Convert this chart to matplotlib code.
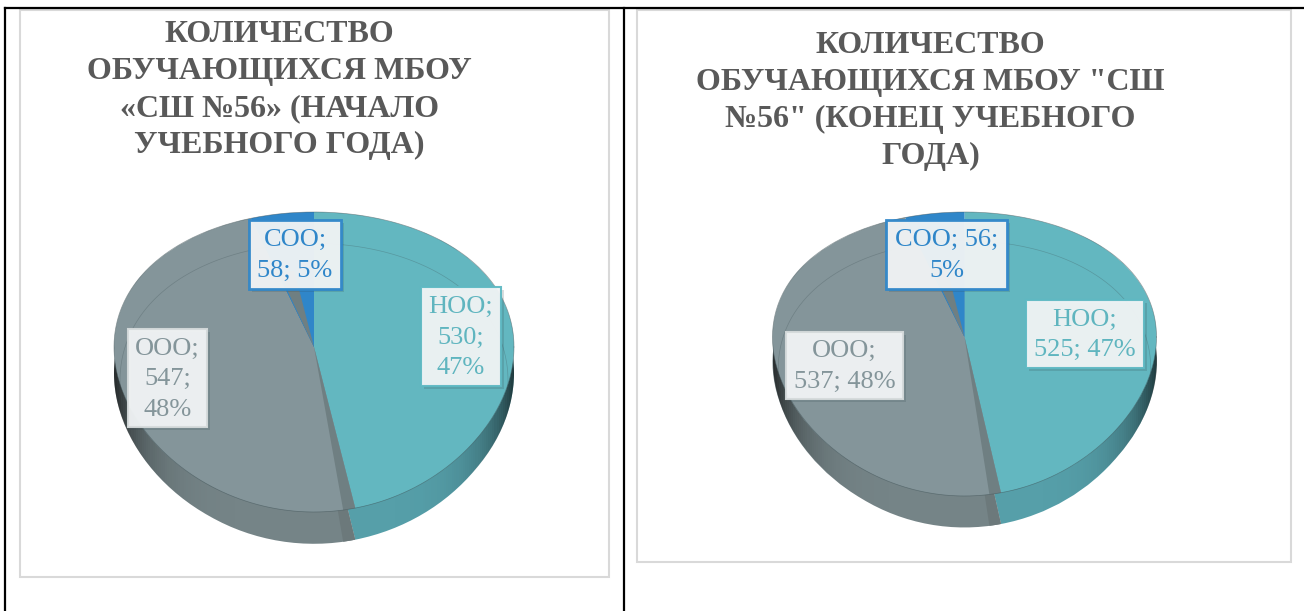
import numpy as np
import matplotlib
matplotlib.use("Agg")
import matplotlib.pyplot as plt
from matplotlib.colors import LinearSegmentedColormap
from matplotlib.patches import Rectangle, Wedge, Circle

plt.rcParams['font.family'] = ['Liberation Serif', 'DejaVu Serif']

W, H = 1304, 611

# dane
categories = ["НОО", "ООО", "СОО"]
values_start = [530, 547, 58]
values_end = [525, 537, 56]
labels_start = ["НОО;\n530;\n47%", "ООО;\n547;\n48%", "СОО;\n58; 5%"]
labels_end = ["НОО;\n525; 47%", "ООО;\n537; 48%", "СОО; 56;\n5%"]
title_start = "КОЛИЧЕСТВО\nОБУЧАЮЩИХСЯ МБОУ\n«СШ №56» (НАЧАЛО\nУЧЕБНОГО ГОДА)"
title_end = "КОЛИЧЕСТВО\nОБУЧАЮЩИХСЯ МБОУ \"СШ\n№56\" (КОНЕЦ УЧЕБНОГО\nГОДА)"

# kolory
top_colors = ["#63b7c0", "#84959a", "#2f86c9"]
side_colors = ["#569fa9", "#758487", "#2a6fa5"]
label_colors = ["#5fb5bf", "#84959a", "#2f86c9"]
box_edges = ["#5fb9c3", "#d5dadb", "#2f86c9"]
shade_map = LinearSegmentedColormap.from_list("shade", [(0, 0, 0, 0), (0, 0, 0, 0.65)])

# ramki etykiet w pikselach (x0, y0, x1, y1)
boxes_start = [(421, 287, 501, 386), (128, 329, 207, 427), (249, 220, 341, 289)]
boxes_end = [(1026, 300, 1144, 368), (786, 332, 903, 399), (886, 220, 1007, 289)]

fig = plt.figure(figsize=(W / 100, H / 100), dpi=100, facecolor="white")


def px_rect(x0, y0, x1, y1, **kw):
    r = Rectangle((x0 / W, 1 - y1 / H), (x1 - x0) / W, (y1 - y0) / H,
                  transform=fig.transFigure, **kw)
    fig.add_artist(r)
    return r


def px_line(xs, ys):
    fig.add_artist(plt.Line2D([x / W for x in xs], [1 - y / H for y in ys],
                              color="black", lw=1.6, zorder=-1))


def draw_pie(values, cx, apex_y, a, up, down, depth):
    # perspektywa: os y rzutowana tak, zeby wierzcholek kola nie byl w srodku elipsy
    c = (down - up) / (down + up)
    k = up * (1 + c)
    forward = lambda v: k * np.asarray(v, float) / (1 + c * np.asarray(v, float))
    inverse = lambda s: np.asarray(s, float) / (k - c * np.asarray(s, float))

    sx, st, sb = 1.1 * a, 1.05 * up, 1.4 * down
    ax = fig.add_axes([(cx - sx) / W, 1 - (apex_y + sb) / H, 2 * sx / W, (st + sb) / H])

    angles = np.cumsum(values) / np.sum(values) * 360
    split = 90 - angles[0]      # granica НОО / ООО
    upper = 90 - angles[1]      # granica ООО / СОО

    # bok kola
    ax.pie(values, colors=side_colors, startangle=90, counterclock=False,
           center=(0, -depth), frame=True, wedgeprops=dict(zorder=1, lw=0))
    ax.add_patch(Wedge((0, -depth), 1, split - 3.5, split, fc="#6c797b", lw=0, zorder=1.2))
    xx, yy = np.meshgrid(np.linspace(-1.05, 1.05, 200), np.linspace(-1.4, 0.6, 3))
    shade = np.abs(xx[:-1, :-1]) ** 6
    mesh = ax.pcolormesh(xx, yy, shade, cmap=shade_map, vmin=0, vmax=1.0,
                         zorder=1.5, shading="flat")
    mesh.set_clip_path(Circle((0, -depth), 1.0, transform=ax.transData))

    # gorna powierzchnia
    ax.pie(values, colors=top_colors, startangle=90, counterclock=False,
           wedgeprops=dict(zorder=2, lw=0))
    ax.add_patch(Wedge((0, 0), 1, split - 3.5, split, fc="#6f7f82", lw=0, zorder=3))
    ax.add_patch(Wedge((0, 0), 0.55, upper - 8, upper, fc="#6f7f82", lw=0, zorder=3))

    t = np.linspace(0, 2 * np.pi, 400)
    ax.plot(np.cos(t), np.sin(t), color="#3d4f53", lw=0.5, alpha=0.55, zorder=4)
    t = np.linspace(-0.15, np.pi + 0.15, 200)
    ax.plot(0.97 * np.cos(t), 0.97 * np.sin(t) - 0.22, color="#3d4f53", lw=0.5, alpha=0.3, zorder=4)

    ax.set_yscale("function", functions=(forward, inverse))
    ax.set_aspect("auto")
    ax.set_xlim(-1.1, 1.1)
    ax.set_ylim(float(inverse(-sb)), float(inverse(st)))
    ax.axis("off")


def draw_labels(labels, boxes):
    for lab, box, col, edge in zip(labels, boxes, label_colors, box_edges):
        x0, y0, x1, y1 = box
        px_rect(x0 + 3, y0 + 3, x1 + 3, y1 + 3, fc="#30444a", alpha=0.18, lw=0, zorder=4)
        px_rect(x0, y0, x1, y1, fc="#f2f5f6", ec=edge, lw=2 if col == label_colors[2] else 1.5,
                alpha=0.95, zorder=5)
        fig.text((x0 + x1) / 2 / W, 1 - ((y0 + y1) / 2 + 1) / H, lab, color=col, fontsize=19,
                 ha="center", va="center", ma="center", linespacing=1.5, zorder=6)


# tlo: tabela i karty wykresow
px_rect(20, 10, 609, 577, fc="white", ec="#d9d9d9", lw=1.5, zorder=-2)
px_rect(637, 10, 1291, 562, fc="white", ec="#d9d9d9", lw=1.5, zorder=-2)
px_line([5, 1304], [8, 8])
px_line([5, 5], [8, 611])
px_line([623.5, 623.5], [8, 611])

draw_pie(values_start, 314, 347, 200, 135, 165, 0.17)
draw_pie(values_end, 964.5, 337, 192, 125, 159, 0.17)

draw_labels(labels_start, boxes_start)
draw_labels(labels_end, boxes_end)

fig.text(279.5 / W, 1 - 90 / H, title_start, color="#595959", fontsize=23, fontweight="bold",
         ha="center", va="center", ma="center", linespacing=1.36, zorder=6)
fig.text(930.5 / W, 1 - 101 / H, title_end, color="#595959", fontsize=23, fontweight="bold",
         ha="center", va="center", ma="center", linespacing=1.36, zorder=6)

fig.savefig("out.png", dpi=100)
